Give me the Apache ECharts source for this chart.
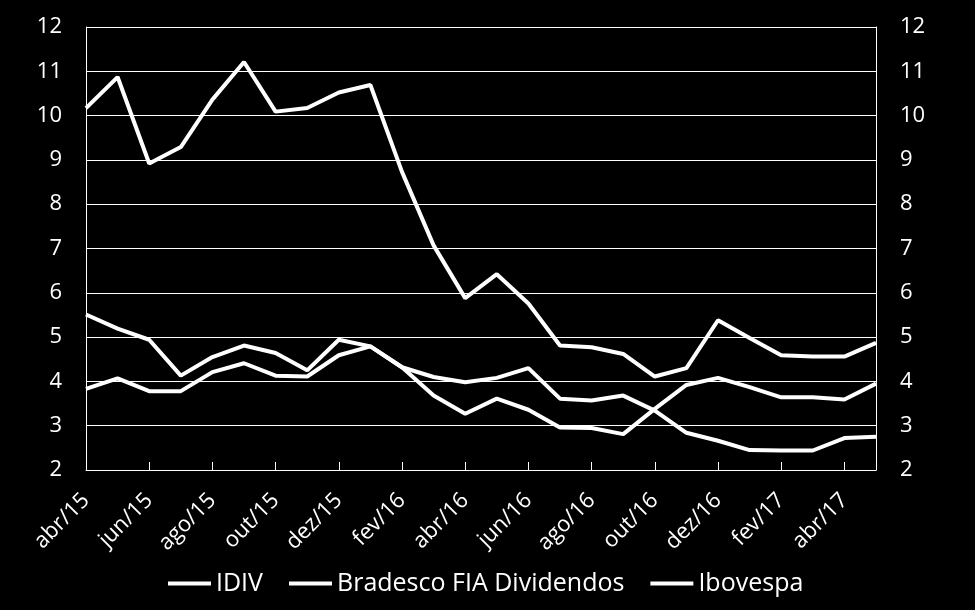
<!DOCTYPE html>
<html>
<head>
<meta charset="utf-8">
<script src="https://cdn.jsdelivr.net/npm/echarts@6/dist/echarts.min.js"></script>
<style>
html,body{margin:0;padding:0;background:#000;}
#chart{width:975px;height:610px;}
</style>
</head>
<body>
<div id="chart"></div>
<script>
const months = ['abr/15','mai/15','jun/15','jul/15','ago/15','set/15','out/15','nov/15','dez/15','jan/16','fev/16','mar/16','abr/16','mai/16','jun/16','jul/16','ago/16','set/16','out/16','nov/16','dez/16','jan/17','fev/17','mar/17','abr/17','mai/17'];
const idiv = [5.51,5.19,4.94,4.13,4.55,4.81,4.64,4.25,4.94,4.79,4.32,3.68,3.27,3.61,3.36,2.96,2.95,2.81,3.38,3.92,4.08,3.87,3.64,3.64,3.59,3.95];
const bradesco = [3.83,4.07,3.78,3.78,4.21,4.41,4.13,4.11,4.59,4.79,4.32,4.10,3.98,4.08,4.30,3.61,3.57,3.68,3.34,2.84,2.66,2.45,2.44,2.44,2.72,2.75];
const ibovespa = [10.17,10.87,8.92,9.29,10.36,11.21,10.09,10.17,10.52,10.69,8.73,7.07,5.88,6.42,5.76,4.81,4.77,4.62,4.11,4.30,5.38,4.98,4.59,4.56,4.56,4.87];
const seriesNames = ['IDIV','Bradesco FIA Dividendos','Ibovespa'];

const FONT = 'Open Sans';
const chart = echarts.init(document.getElementById('chart'));
const mkSeries = (name, data) => ({
  name, type: 'line', data, yAxisIndex: 0,
  symbol: 'none', smooth: false,
  lineStyle: {color: '#ffffff', width: 4},
  itemStyle: {color: '#ffffff'},
  emphasis: {disabled: true},
  animation: false
});
const yAx = (pos) => ({
  type: 'value', position: pos, min: 2, max: 12, interval: 1,
  axisLine: {show: true, lineStyle: {color: '#ffffff', width: 1}},
  axisTick: {show: false},
  splitLine: {show: pos === 'left', lineStyle: {color: '#ffffff', width: 1}},
  axisLabel: {color: '#ffffff', fontFamily: FONT, fontSize: 22, margin: 24}
});
chart.setOption({
  backgroundColor: '#000000',
  animation: false,
  grid: {left: 86, right: 99, top: 27, bottom: 140, containLabel: false},
  legend: {
    data: seriesNames,
    top: 566, left: 163,
    icon: 'rect', itemWidth: 43, itemHeight: 4, itemGap: 26,
    textStyle: {color: '#ffffff', fontFamily: FONT, fontSize: 25}
  },
  xAxis: {
    type: 'category', data: months, boundaryGap: false,
    axisLine: {show: true, lineStyle: {color: '#ffffff', width: 1}},
    axisTick: {show: true, inside: true, length: 8, interval: 1, lineStyle: {color: '#ffffff'}},
    axisLabel: {interval: 1, rotate: 45, color: '#ffffff', fontFamily: FONT, fontSize: 22, margin: 27},
    splitLine: {show: false}
  },
  yAxis: [yAx('left'), yAx('right')],
  series: [mkSeries(seriesNames[0], idiv), mkSeries(seriesNames[1], bradesco), mkSeries(seriesNames[2], ibovespa)]
});
</script>
</body>
</html>
